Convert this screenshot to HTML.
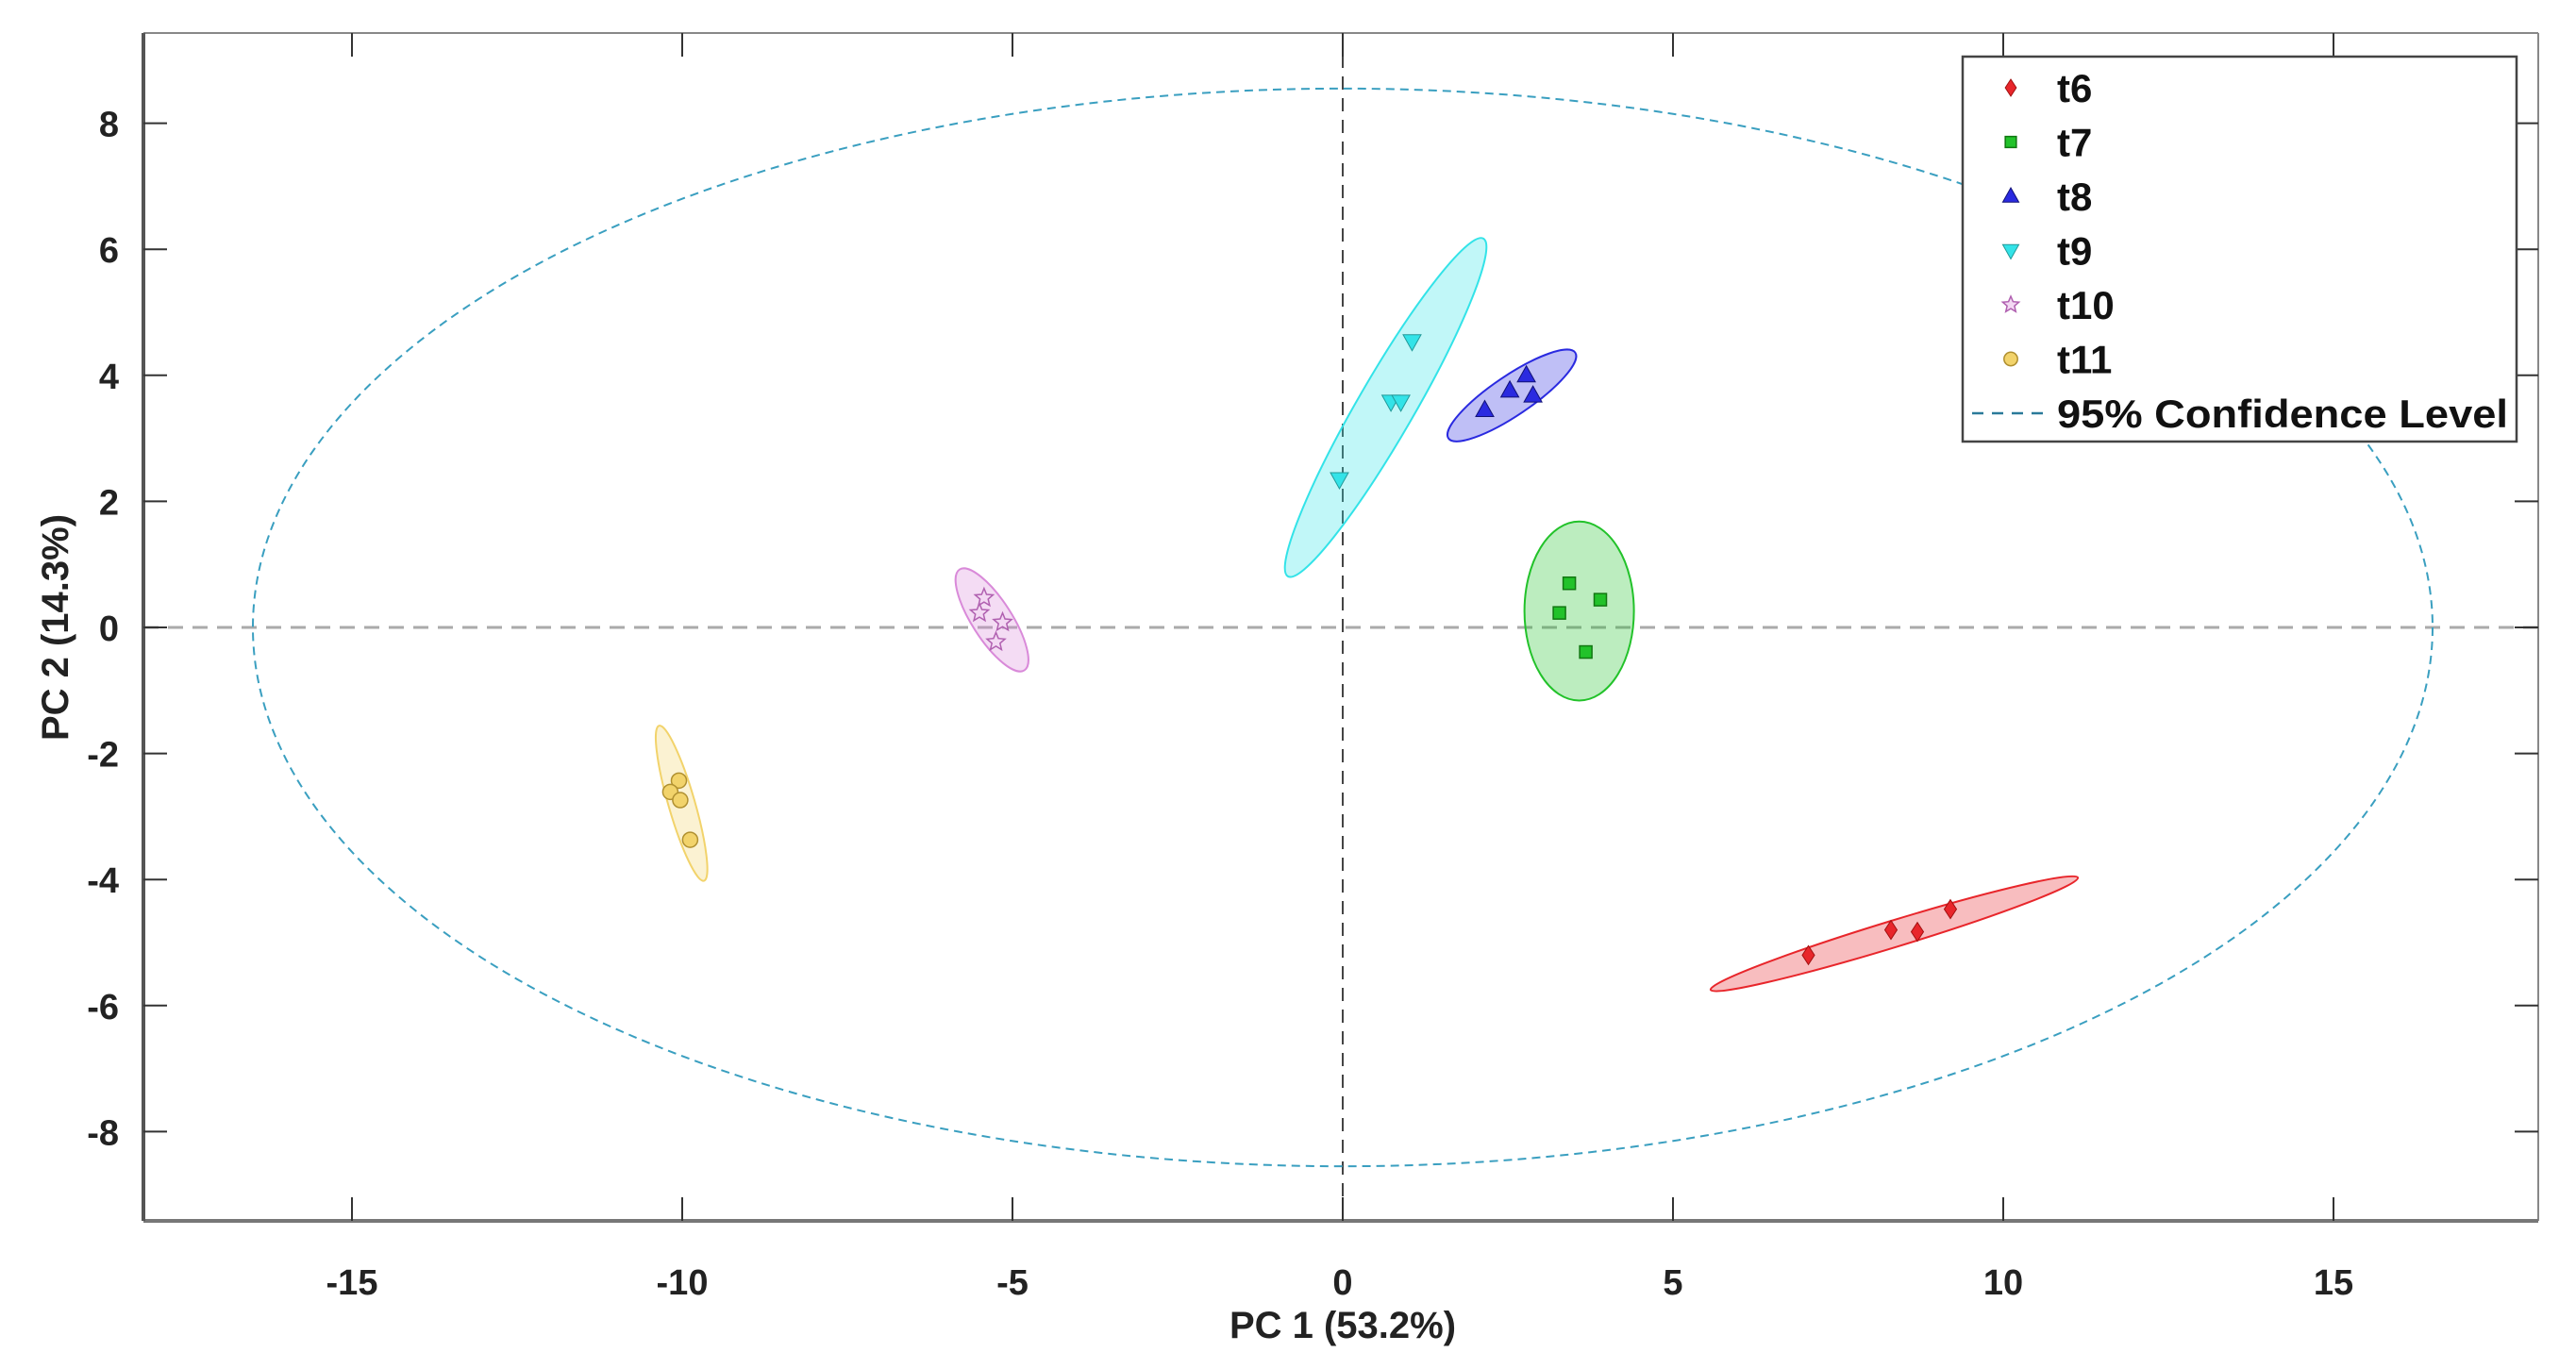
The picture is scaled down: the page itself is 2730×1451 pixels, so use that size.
<!DOCTYPE html>
<html><head><meta charset="utf-8"><style>
html,body{margin:0;padding:0;background:#fff;}
svg{display:block;font-family:"Liberation Sans",Arial,sans-serif;}
</style></head><body>
<svg id="chart" width="2730" height="1451" viewBox="0 0 2730 1451">
<rect x="0" y="0" width="2730" height="1451" fill="#fff"/>
<g id="plot"></g>
</svg>
<script>
const groups = ["t6","t7","t8","t9","t10","t11"];
const colors = ["#e8262b","#22c22a","#2a2ae0","#33e3e8","#d98ad9","#f2d36b"];
const ptsX = [[7.05,8.3,8.7,9.2],[3.43,3.28,3.9,3.68],[2.15,2.53,2.78,2.88],[1.05,0.73,0.88,-0.05],[-5.43,-5.5,-5.15,-5.25],[-10.05,-10.18,-10.03,-9.88]];
const ptsY = [[-5.2,-4.8,-4.83,-4.47],[0.7,0.23,0.44,-0.39],[3.45,3.76,4.0,3.68],[4.54,3.58,3.58,2.35],[0.47,0.23,0.08,-0.23],[-2.43,-2.61,-2.74,-3.37]];
const ellCx = [8.35,3.58,2.56,0.65,-5.31,-10.01];
const ellCy = [-4.86,0.26,3.68,3.49,0.12,-2.79];
const ellAx = [2.78,0,0.96,1.48,0.49,0.34];
const ellAy = [0.89,1.42,0.68,2.68,-0.8,-1.23];
const ellMinor = [14,58,21,30,21,14];
const confA = 16.5, confB = 8.55;
const xTicks = [-15,-10,-5,0,5,10,15];
const yTicks = [-8,-6,-4,-2,0,2,4,6,8];

const L=152,R=2690,T=35,B=1294;
const x0=1423, xs=70.0, y0=665, ys=66.8;
const X=v=>x0+v*xs, Y=v=>y0-v*ys;
const NS="http://www.w3.org/2000/svg";
const g=document.getElementById('plot');
function mk(tag,attrs,parent){const e=document.createElementNS(NS,tag);for(const k in attrs)e.setAttribute(k,attrs[k]);(parent||g).appendChild(e);return e;}

let e=mk('line',{x1:L,x2:R,y1:Y(0),y2:Y(0),stroke:'#aaa','stroke-width':3,'stroke-dasharray':'16,10'});


e=mk('line',{x1:X(0),x2:X(0),y1:T,y2:B,stroke:'#444','stroke-width':2,'stroke-dasharray':'14,9'});



e=mk('ellipse',{cx:X(0),cy:Y(0),rx:confA*xs,ry:confB*ys,fill:'none',stroke:'#3a9fc0','stroke-width':2,'stroke-dasharray':'9,6'});



groups.forEach((gname,i)=>{
  const dx=ellAx[i]*xs, dy=-ellAy[i]*ys;
  const a=Math.hypot(dx,dy), ang=Math.atan2(dy,dx)*180/Math.PI;
  const el=mk('ellipse',{cx:0,cy:0,rx:a,ry:ellMinor[i],fill:colors[i],'fill-opacity':0.3,stroke:colors[i],'stroke-width':2,
    transform:`translate(${X(ellCx[i])},${Y(ellCy[i])}) rotate(${ang})`});
  
  
});

function marker(i,cx,cy,s,parent){
  const c=colors[i];
  let m;
  if(i===0) m=mk('polygon',{points:`${cx},${cy-s} ${cx+s*0.65},${cy} ${cx},${cy+s} ${cx-s*0.65},${cy}`,fill:c,stroke:'#a01010','stroke-width':1},parent);
  else if(i===1) m=mk('rect',{x:cx-s*0.65,y:cy-s*0.65,width:s*1.3,height:s*1.3,fill:c,stroke:'#117711','stroke-width':1.5},parent);
  else if(i===2) m=mk('polygon',{points:`${cx},${cy-s} ${cx+s*0.95},${cy+s*0.7} ${cx-s*0.95},${cy+s*0.7}`,fill:c,stroke:'#111177','stroke-width':1},parent);
  else if(i===3) m=mk('polygon',{points:`${cx},${cy+s} ${cx+s*0.95},${cy-s*0.7} ${cx-s*0.95},${cy-s*0.7}`,fill:c,stroke:'#229999','stroke-width':1},parent);
  else if(i===4){let p=[];for(let k=0;k<10;k++){const r=k%2?s*0.45:s;const a=-Math.PI/2+k*Math.PI/5;p.push((cx+r*Math.cos(a)).toFixed(1)+','+(cy+r*Math.sin(a)).toFixed(1));}
    m=mk('polygon',{points:p.join(' '),fill:'#f3d8f3',stroke:'#b060b0','stroke-width':1.5},parent);}
  else m=mk('circle',{cx,cy,r:s*0.8,fill:c,stroke:'#b09030','stroke-width':1.5},parent);
  return m;
}
groups.forEach((gname,i)=>{
  ptsX[i].forEach((v,j)=>{
    const m=marker(i,X(v),Y(ptsY[i][j]),10);
    
    
  });
});

mk('line',{x1:L,x2:R,y1:T,y2:T,stroke:'#888','stroke-width':2});
mk('line',{x1:R,x2:R,y1:T,y2:B,stroke:'#888','stroke-width':2});
e=mk('line',{x1:L,x2:R,y1:B,y2:B,stroke:'#777','stroke-width':4});


e=mk('line',{x1:L,x2:L,y1:T,y2:B,stroke:'#555','stroke-width':4});



xTicks.forEach(v=>{
  mk('line',{x1:X(v),x2:X(v),y1:B,y2:B-25,stroke:'#333','stroke-width':2});
  mk('line',{x1:X(v),x2:X(v),y1:T,y2:T+25,stroke:'#333','stroke-width':2});
  const t=mk('text',{x:X(v),y:B+78,'text-anchor':'middle','font-size':38,'font-weight':'bold',fill:'#222'});
  t.textContent=v;
  
  
});
yTicks.forEach(v=>{
  mk('line',{x1:L,x2:L+25,y1:Y(v),y2:Y(v),stroke:'#333','stroke-width':2});
  mk('line',{x1:R,x2:R-25,y1:Y(v),y2:Y(v),stroke:'#333','stroke-width':2});
  const t=mk('text',{x:L-26,y:Y(v)+14,'text-anchor':'end','font-size':38,'font-weight':'bold',fill:'#222'});
  t.textContent=v;
  
  
});
e=mk('text',{x:X(0),y:1418,'text-anchor':'middle','font-size':40,'font-weight':'bold',fill:'#222'});
e.textContent='PC 1 (53.2%)';


e=mk('text',{x:0,y:0,'text-anchor':'middle','font-size':40,'font-weight':'bold',fill:'#222',transform:`translate(72,${Y(0)}) rotate(-90)`});
e.textContent='PC 2 (14.3%)';



const lg=mk('g',{});


mk('rect',{x:2080,y:60,width:587,height:408,fill:'#fff',stroke:'#444','stroke-width':2.5},lg);
groups.forEach((gname,i)=>{
  const yy=93+i*57.5;
  const ent=mk('g',{},lg);
  
  
  marker(i,2131,yy,9,ent);
  const t=mk('text',{x:2180,y:yy+15,'font-size':42,'font-weight':'bold',fill:'#111'},ent);
  t.textContent=gname;
});
const ce=mk('g',{},lg);


mk('line',{x1:2090,x2:2172,y1:438,y2:438,stroke:'#2a7a9a','stroke-width':2.5,'stroke-dasharray':'12,9'},ce);
const ct=mk('text',{x:2180,y:453,'font-size':42,'font-weight':'bold',fill:'#111',textLength:478,lengthAdjust:'spacingAndGlyphs'},ce);
ct.textContent='95% Confidence Level';
</script>
</body></html>
